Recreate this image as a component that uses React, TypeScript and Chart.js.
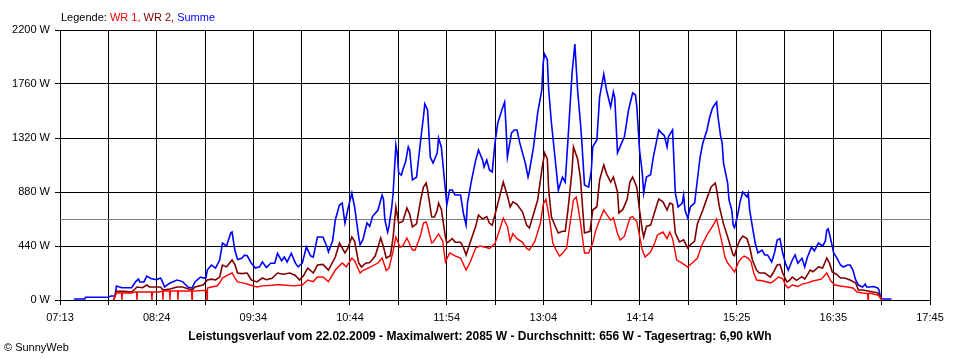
import { useEffect, useRef } from 'react';
import { Chart, registerables } from 'chart.js';

Chart.register(...registerables);

// ---- axis / labels ----
const X_LABELS = ['07:13', '08:24', '09:34', '10:44', '11:54', '13:04', '14:14', '15:25', '16:35', '17:45'];
const X_MIN = 433; // 07:13 in minutes
const X_MAX = 1065; // 17:45 in minutes
const X_DIVISIONS = 18;
const Y_MAX = 2200;
const Y_STEP = 440;
const AVERAGE = 656;
const TITLE = 'Leistungsverlauf vom 22.02.2009 - Maximalwert: 2085 W - Durchschnitt: 656 W - Tagesertrag: 6,90 kWh';
const COPYRIGHT = '\u00A9 SunnyWeb';
const LEGEND_PARTS: [string, string][] = [
  ['Legende: ', '#000000'],
  ['WR 1, ', '#ff0000'],
  ['WR 2, ', '#800000'],
  ['Summe', '#0000ff'],
];

// ---- Summe (minutes since midnight, W) ----
const TIME_SUM = [443, 451, 451.5, 468, 470, 473, 474, 478, 485, 488, 490, 491, 494, 496, 499, 503, 506, 507, 509, 513, 518, 522, 526, 529, 531, 535, 537, 539, 540, 543, 546, 549, 551, 554, 557, 558, 560, 562, 565, 567, 569, 572, 575, 578, 580, 583, 586, 589, 591, 594, 596, 598, 601, 604, 606, 609, 612, 615, 617, 620, 624, 627, 628, 631, 633, 636, 638, 640, 642, 645, 647, 650, 651, 653, 656, 658, 660, 664, 667, 668, 669, 671, 672, 674, 675, 677, 678, 679, 681, 682, 684, 686, 687, 689, 692, 695, 697, 698, 700, 702, 704, 707, 708, 710, 713, 714, 716, 718, 720, 724, 726, 728, 729, 732, 735, 737, 740, 741, 743, 745, 747, 749, 751, 754, 756, 757, 758, 761, 763, 765, 767, 771, 773, 774, 777, 780, 783, 784, 785, 787, 788, 790, 793, 795, 798, 800, 802, 805, 807, 809, 811, 812, 814, 817, 819, 820, 823, 825, 828, 830, 833, 835, 836, 838, 841, 843, 846, 849, 851, 852, 854, 856, 857, 859, 862, 864, 867, 868, 870, 872, 874, 875, 878, 880, 882, 885, 886, 887, 889, 891, 894, 896, 898, 900, 903, 905, 907, 910, 911, 913, 914, 915, 918, 919, 921, 922, 923, 925, 927, 929, 932, 933, 934, 936, 938, 940, 943, 945, 947, 950, 952, 954, 956, 958, 960, 962, 965, 967, 969, 972, 974, 976, 979, 981, 984, 987, 989, 990, 991, 993, 995, 997, 1000, 1002, 1005, 1007, 1009, 1011, 1013, 1016, 1018, 1019, 1021, 1024, 1027, 1028, 1029, 1030, 1037];
const SUMME = [8, 8, 22, 22, 33, 33, 114, 100, 100, 150, 170, 147, 147, 195, 175, 165, 180, 160, 106, 139, 163, 150, 106, 98, 147, 187, 180, 180, 244, 285, 260, 326, 464, 440, 546, 554, 407, 330, 340, 365, 360, 300, 260, 270, 310, 265, 300, 300, 380, 320, 350, 310, 380, 300, 270, 300, 432, 360, 350, 513, 513, 432, 391, 480, 652, 774, 790, 627, 733, 872, 758, 513, 450, 490, 627, 600, 680, 733, 855, 820, 652, 554, 600, 758, 872, 1263, 1198, 1035, 1018, 1060, 1124, 1247, 1222, 978, 1000, 1304, 1491, 1597, 1548, 1165, 1116, 1198, 1320, 1247, 896, 774, 896, 896, 855, 855, 709, 611, 790, 978, 1140, 1222, 1140, 1084, 1140, 1060, 1043, 1280, 1442, 1548, 1613, 1410, 1165, 1361, 1385, 1385, 1280, 1116, 1002, 1050, 1247, 1524, 1711, 1931, 2004, 1960, 1711, 1442, 1116, 896, 1000, 960, 1304, 1850, 2085, 1711, 1450, 1304, 937, 920, 1059, 1247, 1304, 1654, 1841, 1711, 1573, 1695, 1650, 1198, 1280, 1330, 1548, 1687, 1670, 1580, 1222, 1035, 872, 1002, 1020, 1165, 1328, 1385, 1360, 1340, 1247, 1330, 1385, 872, 758, 790, 855, 733, 668, 760, 790, 978, 1165, 1280, 1385, 1491, 1565, 1613, 1491, 1328, 1280, 1116, 953, 815, 733, 611, 590, 676, 798, 880, 840, 870, 733, 595, 464, 383, 407, 367, 367, 310, 383, 489, 500, 383, 300, 244, 326, 367, 300, 340, 269, 350, 432, 400, 464, 440, 480, 570, 580, 489, 383, 350, 285, 269, 285, 285, 244, 163, 122, 106, 130, 106, 106, 110, 98, 81, 24, 8, 8];

// ---- WR 2 ----
const TIME_WR2 = [472, 474, 480, 485, 489, 493, 496, 498, 506, 508, 513, 518, 522, 529, 531, 537, 540, 543, 546, 549, 551, 554, 558, 560, 562, 565, 569, 572, 576, 580, 583, 587, 591, 595, 600, 604, 607, 610, 613, 617, 620, 624, 628, 633, 636, 640, 642, 645, 647, 650, 652, 655, 658, 660, 662, 664, 666, 668, 670, 673, 675, 677, 679, 682, 685, 687, 689, 692, 695, 697, 699, 700, 703, 705, 707, 708, 710, 713, 714, 718, 720, 724, 726, 728, 731, 735, 737, 740, 743, 745, 747, 750, 753, 755, 758, 760, 762, 765, 769, 772, 774, 777, 780, 783, 785, 787, 788, 790, 793, 795, 798, 800, 802, 805, 806, 809, 811, 814, 818, 820, 823, 825, 828, 830, 833, 835, 838, 839, 842, 845, 847, 849, 852, 854, 856, 857, 859, 862, 864, 867, 868, 871, 874, 876, 878, 880, 883, 886, 889, 891, 894, 896, 900, 903, 906, 909, 910, 912, 915, 918, 920, 922, 923, 925, 927, 929, 932, 934, 936, 939, 941, 945, 949, 951, 954, 956, 958, 961, 963, 965, 968, 972, 974, 978, 980, 984, 987, 990, 992, 994, 997, 1000, 1003, 1007, 1011, 1013, 1016, 1019, 1024, 1027, 1029, 1030];
const WR2 = [0, 70, 70, 65, 106, 100, 122, 106, 106, 81, 90, 106, 106, 81, 106, 122, 163, 170, 163, 187, 285, 270, 326, 290, 220, 215, 220, 163, 147, 179, 165, 177, 220, 210, 220, 200, 163, 200, 261, 220, 285, 290, 244, 350, 464, 383, 420, 513, 480, 301, 269, 300, 305, 330, 360, 432, 505, 432, 342, 360, 513, 758, 627, 640, 750, 700, 595, 620, 815, 921, 953, 900, 676, 676, 730, 790, 740, 513, 464, 500, 470, 470, 430, 367, 470, 600, 693, 660, 680, 625, 610, 740, 872, 961, 850, 758, 800, 780, 717, 610, 587, 700, 815, 1059, 1198, 1150, 896, 676, 595, 546, 560, 560, 733, 1059, 1247, 1150, 1000, 546, 560, 733, 760, 978, 1100, 1030, 961, 1002, 880, 709, 740, 820, 961, 1002, 920, 733, 570, 513, 600, 610, 680, 790, 823, 800, 733, 790, 780, 546, 473, 490, 424, 450, 480, 620, 733, 830, 921, 953, 900, 760, 620, 513, 440, 367, 360, 440, 489, 521, 500, 432, 326, 244, 220, 220, 187, 220, 285, 290, 220, 147, 160, 187, 160, 190, 170, 244, 230, 270, 260, 342, 300, 228, 210, 179, 179, 163, 139, 81, 81, 75, 65, 60, 16, 0];

// ---- WR 1 ----
const TIME_WR1 = [472, 474, 477.7, 478, 478.3, 485, 487, 488.6, 488.9, 489.2, 499.5, 499.8, 500.1, 505, 507.5, 507.8, 508.1, 512.6, 512.9, 513.2, 518.4, 518.7, 519, 528.6, 528.9, 529.2, 539.5, 539.8, 540.1, 543, 547, 549, 551, 555, 558, 560, 562, 566, 571, 576, 580, 587, 591, 595, 603, 609, 613, 617, 620, 624, 628, 633, 638, 641, 645, 647, 651, 653, 658, 664, 667, 670, 672, 675, 677, 680, 682, 685, 689, 691, 695, 697, 699, 700, 703, 704, 708, 711, 713, 716, 720, 724, 728, 731, 735, 738, 742, 745, 749, 753, 755, 758, 760, 762, 765, 769, 772, 774, 778, 782, 784, 786, 787, 789, 791, 794, 796, 798, 801, 804, 806, 808, 809, 811, 814, 817, 820, 822, 825, 828, 830, 833, 835, 838, 840, 843, 847, 849, 852, 854, 856, 858, 862, 865, 867, 871, 874, 876, 878, 881, 885, 889, 892, 896, 899, 903, 907, 910, 911, 914, 916, 918, 921, 923, 926, 928, 930, 933, 935, 937, 939, 944, 949, 951, 955, 958, 960, 962, 965, 969, 972, 976, 980, 986, 990, 993, 996, 1000, 1005, 1009, 1012, 1016, 1019.7, 1020, 1020.3, 1021, 1027, 1029, 1030];
const WR1 = [0, 57, 57, 0, 57, 57, 65, 65, 0, 65, 65, 0, 65, 65, 73, 0, 73, 73, 0, 73, 73, 0, 73, 73, 0, 73, 80, 0, 98, 106, 114, 139, 179, 204, 220, 180, 147, 140, 122, 106, 115, 120, 125, 122, 115, 122, 163, 150, 187, 187, 150, 244, 301, 270, 342, 320, 220, 240, 265, 301, 342, 240, 260, 400, 513, 430, 440, 505, 407, 407, 530, 627, 636, 600, 464, 470, 538, 480, 310, 383, 360, 342, 244, 310, 424, 440, 430, 420, 460, 595, 668, 600, 480, 540, 500, 470, 420, 407, 480, 627, 780, 820, 760, 627, 464, 391, 358, 380, 420, 660, 815, 839, 780, 640, 383, 383, 464, 560, 652, 733, 700, 650, 670, 540, 489, 520, 668, 680, 640, 520, 407, 350, 390, 464, 530, 554, 500, 554, 500, 326, 300, 269, 300, 340, 440, 530, 600, 660, 610, 464, 350, 301, 260, 228, 310, 340, 358, 340, 310, 220, 163, 155, 139, 150, 187, 175, 122, 98, 122, 110, 130, 140, 155, 170, 220, 155, 122, 114, 106, 98, 65, 57, 52, 0, 52, 57, 41, 20, 0];

const FONT = '"Liberation Sans", Arial, sans-serif';

const toPoints = (t: number[], v: number[]) => t.map((x, i) => ({ x, y: v[i] }));

const avgLinePlugin = {
  id: 'avgLine',
  beforeDatasetsDraw(chart: any) {
    const { ctx, chartArea, scales } = chart;
    const y = Math.round(scales.y.getPixelForValue(AVERAGE)) + 0.5;
    ctx.save();
    ctx.strokeStyle = '#808080';
    ctx.lineWidth = 1;
    ctx.beginPath();
    ctx.moveTo(chartArea.left, y);
    ctx.lineTo(chartArea.right, y);
    ctx.stroke();
    ctx.restore();
  },
};

const textPlugin = {
  id: 'texts',
  afterDraw(chart: any) {
    const ctx = chart.ctx as CanvasRenderingContext2D;
    ctx.save();
    ctx.textBaseline = 'alphabetic';
    ctx.textAlign = 'left';
    ctx.font = `11px ${FONT}`;
    let x = 61;
    for (const [t, c] of LEGEND_PARTS) {
      ctx.fillStyle = c;
      ctx.fillText(t, x, 21);
      x += ctx.measureText(t).width;
    }
    ctx.fillStyle = '#000';
    ctx.font = `bold 12px ${FONT}`;
    ctx.textAlign = 'center';
    ctx.fillText(TITLE, 480, 340);
    ctx.font = `11px ${FONT}`;
    ctx.textAlign = 'left';
    ctx.fillText(COPYRIGHT, 4, 351);
    ctx.restore();
  },
};

export default function App() {
  const ref = useRef<HTMLCanvasElement>(null);

  useEffect(() => {
    if (!ref.current) return;
    const chart = new Chart(ref.current, {
      type: 'line',
      data: {
        datasets: [
          { label: 'WR 1', data: toPoints(TIME_WR1, WR1), borderColor: '#ff0000', borderWidth: 1.4, pointRadius: 0, tension: 0 },
          { label: 'WR 2', data: toPoints(TIME_WR2, WR2), borderColor: '#800000', borderWidth: 1.6, pointRadius: 0, tension: 0 },
          { label: 'Summe', data: toPoints(TIME_SUM, SUMME), borderColor: '#0000ff', borderWidth: 1.6, pointRadius: 0, tension: 0 },
        ],
      },
      options: {
        responsive: false,
        animation: false,
        events: [],
        layout: { padding: { top: 30, right: 30, left: 0, bottom: 0 } },
        plugins: { legend: { display: false }, tooltip: { enabled: false }, title: { display: false } },
        scales: {
          x: {
            type: 'linear',
            min: X_MIN,
            max: X_MAX,
            afterBuildTicks: (s: any) => {
              s.ticks = Array.from({ length: X_DIVISIONS + 1 }, (_, i) => ({ value: X_MIN + ((X_MAX - X_MIN) * i) / X_DIVISIONS }));
            },
            afterFit: (s: any) => { s.height = 60; },
            ticks: {
              autoSkip: false,
              maxRotation: 0,
              padding: 6,
              color: '#000',
              font: { family: FONT, size: 11 },
              callback: (_v: any, i: number) => (i % 2 === 0 ? X_LABELS[i / 2] : ''),
            },
            grid: { color: '#000', lineWidth: 1, tickLength: 5 },
            border: { color: '#000' },
          },
          y: {
            min: 0,
            max: Y_MAX,
            afterFit: (s: any) => { s.width = 60; },
            ticks: {
              stepSize: Y_STEP,
              padding: 5,
              color: '#000',
              font: { family: FONT, size: 11 },
              callback: (v: any) => `${v} W`,
            },
            grid: { color: '#000', lineWidth: 1, tickLength: 5 },
            border: { color: '#000' },
          },
        },
      },
      plugins: [avgLinePlugin, textPlugin],
    });
    return () => chart.destroy();
  }, []);

  return (
    <div style={{ position: 'absolute', left: 0, top: 0, width: 960, height: 360, background: '#fff' }}>
      <canvas ref={ref} width={960} height={360} style={{ display: 'block' }} />
    </div>
  );
}
